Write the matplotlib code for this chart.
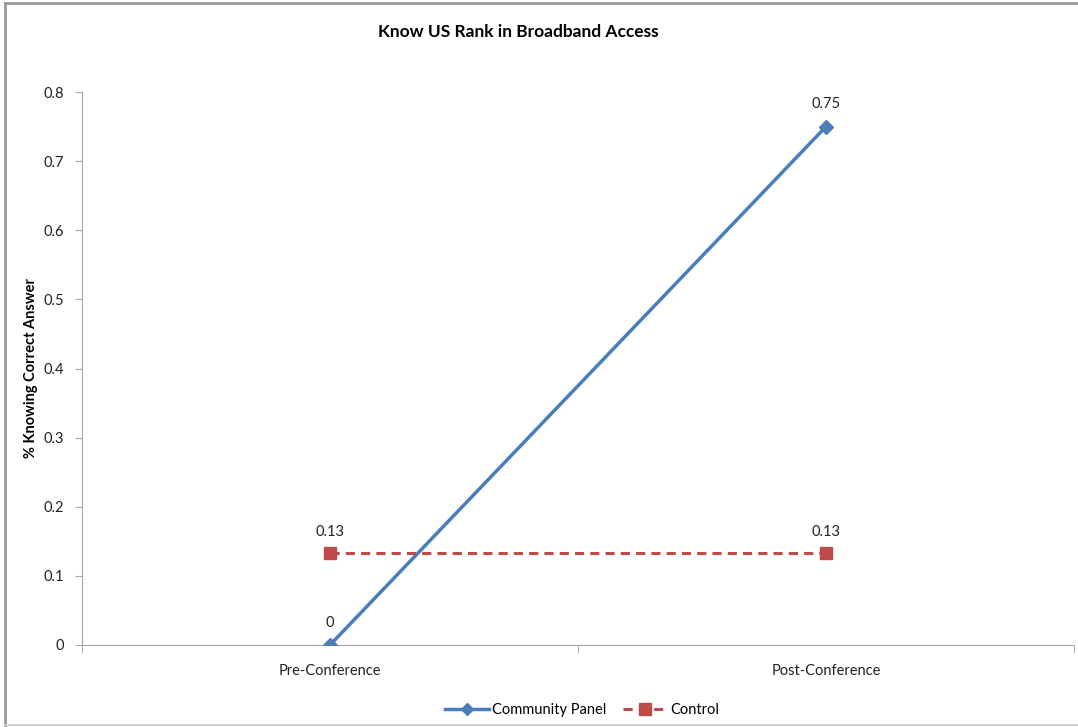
import matplotlib.pyplot as plt
from matplotlib.lines import Line2D

plt.rcParams['font.family'] = ['Lato', 'DejaVu Sans']

# данные
categories = ['Pre-Conference', 'Post-Conference']
community = [0.0, 0.75]
control = [0.133, 0.133]
community_labels = ['0', '0.75']
control_labels = ['0.13', '0.13']
y_ticks = [0, 0.1, 0.2, 0.3, 0.4, 0.5, 0.6, 0.7, 0.8]

blue = '#4a7ebb'
red = '#be4b48'
grey = '#a6a6a6'

fig = plt.figure(figsize=(10.78, 7.27), dpi=100)
ax = fig.add_axes([82 / 1078, 1 - 645 / 727, (1074 - 82) / 1078, (645 - 92) / 727])

x = list(range(len(categories)))
ax.plot(x, community, color=blue, linewidth=2.5, marker='D', markersize=7,
        label='Community Panel', zorder=3)
ax.plot(x, control, color=red, linewidth=2.2, linestyle=(0, (3, 2)), marker='s',
        markersize=9, label='Control', zorder=3)

for xi, yi, lab in zip(x, community, community_labels):
    ax.annotate(lab, (xi, yi), xytext=(0, 11), textcoords='offset points',
                ha='center', va='bottom', fontsize=10.5, color='#222222')
for xi, yi, lab in zip(x, control, control_labels):
    ax.annotate(lab, (xi, yi), xytext=(0, 10), textcoords='offset points',
                ha='center', va='bottom', fontsize=10.5, color='#222222')

ax.set_xlim(-0.5, len(categories) - 0.5)
ax.set_ylim(0, 0.8)
ax.set_yticks(y_ticks)
ax.set_yticklabels(['0' if t == 0 else f'{t:g}' for t in y_ticks])
ax.set_xticks(x)
ax.set_xticklabels(categories)
ax.set_xticks([-0.5, 0.5, 1.5], minor=True)
ax.tick_params(axis='x', which='major', length=0, pad=14, labelsize=10.5, labelcolor='#222222')
ax.tick_params(axis='x', which='minor', length=6, color=grey, direction='out')
ax.tick_params(axis='y', length=5, color=grey, pad=8, labelsize=10.5, labelcolor='#222222')

for side in ['top', 'right']:
    ax.spines[side].set_visible(False)
ax.spines['left'].set_color(grey)
ax.spines['bottom'].set_color(grey)

ax.set_ylabel('% Knowing Correct Answer', fontsize=10.5, fontweight='bold', labelpad=4)

fig.text(518 / 1078, 1 - 32 / 727, 'Know US Rank in Broadband Access',
         ha='center', va='center', fontsize=12.5, fontweight='bold')

handles = [
    Line2D([], [], color=blue, linewidth=2.5, marker='D', markersize=6),
    Line2D([], [], color=red, linewidth=2.2, linestyle=(0, (3, 2)), marker='s', markersize=8),
]
fig.legend(handles, ['Community Panel', 'Control'], loc='center',
           bbox_to_anchor=(582 / 1078, 1 - 710 / 727), ncol=2, frameon=False,
           fontsize=10.5, handlelength=3, handletextpad=0.2, columnspacing=1.2)

# рамка вокруг картинки
fig.add_artist(Line2D([5 / 1078, 5 / 1078], [0, 1 - 3 / 727], transform=fig.transFigure,
                      color='#999999', linewidth=2))
fig.add_artist(Line2D([5 / 1078, 1], [1 - 3 / 727, 1 - 3 / 727], transform=fig.transFigure,
                      color='#999999', linewidth=2))
fig.add_artist(Line2D([5 / 1078, 1], [1 - 725 / 727, 1 - 725 / 727], transform=fig.transFigure,
                      color='#d0d0d0', linewidth=1.5))

fig.savefig('out.png', dpi=100)
